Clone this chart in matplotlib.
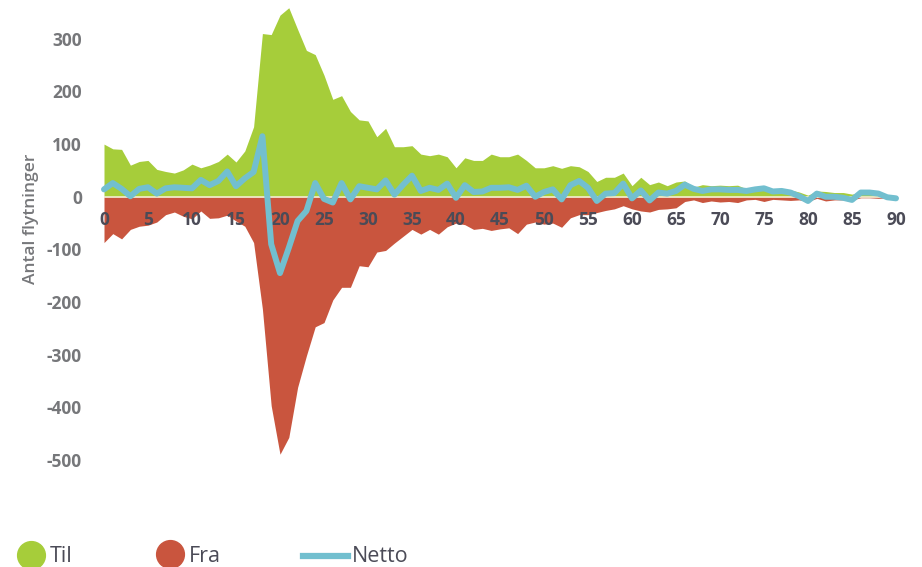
import matplotlib
matplotlib.use("Agg")
import matplotlib.pyplot as plt
from matplotlib.lines import Line2D
import numpy as np

ages = list(range(0, 91))
til = [100, 91, 90, 60, 67, 69, 52, 48, 45, 51,
       62, 55, 60, 67, 81, 66, 87, 133, 310, 308,
       345, 359, 318, 278, 270, 231, 185, 192, 162, 146,
       144, 114, 130, 95, 95, 97, 81, 78, 81, 76,
       55, 74, 69, 69, 81, 76, 76, 81, 69, 55,
       55, 59, 54, 59, 57, 48, 29, 37, 37, 45,
       21, 37, 23, 28, 21, 28, 30, 18, 23, 21,
       22, 21, 22, 15, 18, 21, 15, 16, 13, 9,
       3, 11, 10, 8, 8, 5, 8, 7, 6, 3, 1]
fra = [-87, -70, -80, -62, -56, -54, -48, -34, -29, -37,
       -42, -27, -41, -40, -35, -46, -56, -87, -213, -397,
       -489, -457, -362, -302, -247, -239, -196, -172, -172, -131,
       -133, -105, -102, -88, -75, -62, -71, -62, -71, -57,
       -50, -53, -62, -60, -64, -61, -59, -70, -52, -48,
       -52, -50, -58, -40, -34, -34, -30, -26, -23, -17,
       -23, -27, -29, -24, -23, -21, -9, -6, -11, -8,
       -10, -9, -11, -6, -5, -9, -5, -6, -7, -6,
       -9, -3, -8, -6, -6, -6, -2, -2, -3, -2, -4]
netto = [14, 26, 15, 1, 15, 18, 6, 16, 18, 17,
         16, 32, 22, 30, 48, 20, 35, 47, 115, -90,
         -145, -97, -46, -27, 26, -4, -11, 26, -5, 20,
         17, 14, 31, 4, 23, 40, 11, 17, 13, 25,
         -2, 22, 9, 10, 17, 17, 18, 13, 21, 0,
         9, 14, -5, 22, 30, 17, -8, 6, 7, 25,
         -3, 12, -7, 8, 6, 11, 23, 15, 11, 14,
         14, 13, 13, 11, 14, 16, 10, 11, 8, 1,
         -8, 6, 0, 0, -2, -6, 8, 8, 6, -1, -3]
xticks = list(range(0, 91, 5))
yticks = [300, 200, 100, 0, -100, -200, -300, -400, -500]
legend_labels = ["Til", "Fra", "Netto"]

GREEN = "#a6cd3a"
RED = "#c9553e"
TEAL = "#72bfcf"
DARK = "#4b4b57"
GRAY = "#76777a"

plt.rcParams['font.family'] = ['Open Sans', 'DejaVu Sans']

fig = plt.figure(figsize=(9.22, 5.67), dpi=100)
W, H = 922, 567
ax = fig.add_axes([104 / W, 1 - 460 / H, 792 / W, 460 / H])

ax.fill_between(ages, 0, til, color=GREEN, linewidth=0, zorder=1)
ax.fill_between(ages, 0, fra, color=RED, linewidth=0, zorder=1)
ax.axhline(0, color="#f3ecd2", lw=1.2, zorder=2)
ax.plot(ages, netto, color=TEAL, lw=4.3, solid_joinstyle="round",
        solid_capstyle="round", zorder=4, clip_on=False)

ax.set_xlim(0, 90)
ax.set_ylim(-500, 373.7)

for s in ["top", "right", "left", "bottom"]:
    ax.spines[s].set_visible(False)
ax.spines["bottom"].set_position(("data", 0))

ax.set_xticks(xticks)
ax.set_xticklabels([str(v) for v in xticks], fontsize=12.5, fontweight="bold", color=DARK)
ax.set_yticks(yticks)
ax.set_yticklabels([str(v) for v in yticks], fontsize=12.5, fontweight="bold", color=GRAY)
ax.tick_params(axis="x", length=0, pad=10)
ax.tick_params(axis="y", length=0, pad=16)
for lab in ax.get_xticklabels():
    lab.set_zorder(5)

ax.set_ylabel("Antal flytninger", fontsize=12.5, fontweight="semibold", color=GRAY)
ax.yaxis.set_label_coords((39 - 104) / 792, (460 - 219) / 460)

# legend
def fx(px):
    return px / W

def fy(py):
    return 1 - py / H

fig.add_artist(Line2D([fx(30.5)], [fy(555)], marker="o", markersize=20,
                      color=GREEN, linestyle="none", transform=fig.transFigure))
fig.text(fx(50), fy(556), legend_labels[0], fontsize=15.5, color=DARK, va="center", ha="left")
fig.add_artist(Line2D([fx(169.7)], [fy(554)], marker="o", markersize=20,
                      color=RED, linestyle="none", transform=fig.transFigure))
fig.text(fx(189), fy(556), legend_labels[1], fontsize=15.5, color=DARK, va="center", ha="left")
fig.add_artist(Line2D([fx(303), fx(348)], [fy(555.7), fy(555.7)], lw=4.5,
                      color=TEAL, transform=fig.transFigure))
fig.text(fx(352), fy(556), legend_labels[2], fontsize=15.5, color=DARK, va="center", ha="left")

fig.savefig("out.png", dpi=100)
